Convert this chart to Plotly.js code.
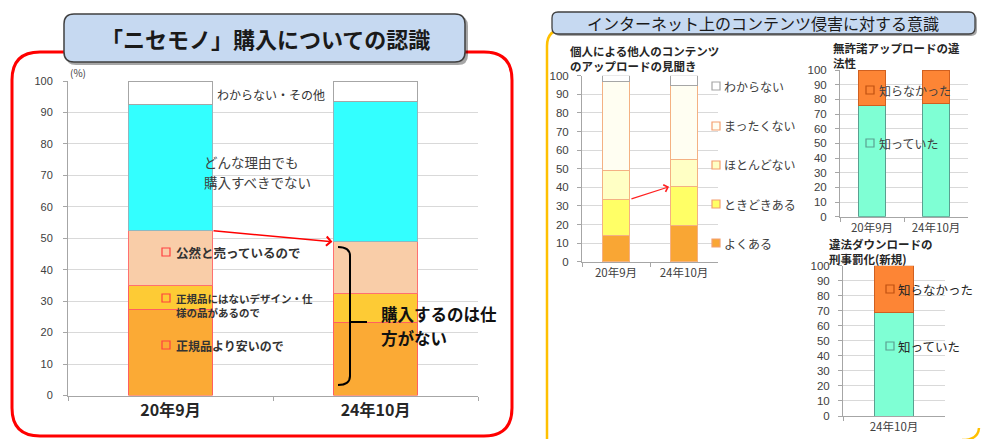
<!DOCTYPE html>
<html><head><meta charset="utf-8">
<script src="https://cdn.plot.ly/plotly-3.0.1.min.js"></script>
<style>html,body{margin:0;padding:0;background:#fff}#chart{width:982px;height:439px}</style>
</head><body><div id="chart"></div>
<script>
// ---- data: left chart 「ニセモノ」購入についての認識 ----
const periodsA = ['20年9月', '24年10月'];
const cheaperA = [27.2, 23.1];   // 正規品より安いので
const designA  = [7.7, 9.3];     // 正規品にはないデザイン・仕様の品があるので
const openlyA  = [17.5, 16.5];   // 公然と売っているので
const neverA   = [40.0, 44.7];   // どんな理由でも購入すべきでない
const otherA   = [7.6, 6.4];     // わからない・その他

// ---- data: 個人による他人のコンテンツのアップロードの見聞き ----
const periodsB = ['20年9月', '24年10月'];
const oftenB     = [14.0, 19.7]; // よくある
const sometimesB = [19.5, 20.6]; // ときどきある
const rarelyB    = [15.3, 14.9]; // ほとんどない
const notatallB  = [48.2, 39.6]; // まったくない
const unknownB   = [3.0, 5.2];   // わからない

// ---- data: 無許諾アップロードの違法性 ----
const periodsC = ['20年9月', '24年10月'];
const knewC    = [75.7, 77.3];   // 知っていた
const didntC   = [24.3, 22.7];   // 知らなかった

// ---- data: 違法ダウンロードの刑事罰化(新規) ----
const periodsD = ['24年10月'];
const knewD    = [69.0];
const didntD   = [31.0];

const yTicks = [0,10,20,30,40,50,60,70,80,90,100];

const W = 982, H = 439;
const X = p => p / W, Y = p => 1 - p / H;
const FAM = '"Liberation Sans", Arial, "Noto Sans CJK JP", sans-serif';
const JFAM = '"Noto Sans CJK JP", sans-serif';

function cum(arrs, upto) { return arrs[0].map((_, i) => arrs.slice(0, upto + 1).reduce((s, a) => s + a[i], 0)); }

function bar(x, y, color, line, xa, ya, width) {
  return {type: 'bar', x: x, y: y, xaxis: xa, yaxis: ya, width: width,
    marker: {color: color, line: {color: line, width: 1}}, hoverinfo: 'skip', showlegend: false};
}

const traces = [
  bar(periodsA, cheaperA, '#FBAA35', '#FF6060', 'x', 'y', 0.405),
  bar(periodsA, designA, '#FDCB35', '#FF6060', 'x', 'y', 0.405),
  bar(periodsA, openlyA, '#F9CDA8', '#FF7070', 'x', 'y', 0.405),
  bar(periodsA, neverA, '#33FFFF', '#8FB8C0', 'x', 'y', 0.405),
  bar(periodsA, otherA, '#FFFFFF', '#A6A6A6', 'x', 'y', 0.405),

  bar(periodsB, oftenB, '#F9A634', '#F4B183', 'x2', 'y2', 0.41),
  bar(periodsB, sometimesB, '#FFFF66', '#F4B183', 'x2', 'y2', 0.41),
  bar(periodsB, rarelyB, '#FFFFC4', '#F4B183', 'x2', 'y2', 0.41),
  bar(periodsB, notatallB, '#FFFEF2', '#F4B183', 'x2', 'y2', 0.41),
  bar(periodsB, unknownB, '#FFFFFF', '#A6A6A6', 'x2', 'y2', 0.41),

  bar(periodsC, knewC, '#7FFFD4', '#5AA090', 'x3', 'y3', 0.41),
  bar(periodsC, didntC, '#FD8535', '#D06020', 'x3', 'y3', 0.41),

  bar(periodsD, knewD, '#7FFFD4', '#5AA090', 'x4', 'y4', 0.39),
  bar(periodsD, didntD, '#FD8535', '#D06020', 'x4', 'y4', 0.39)
];

function yax(d0, d1, anchor, fs, standoff) {
  return {domain: [Y(d0), Y(d1)], range: [0, 100], tickvals: yTicks, anchor: anchor,
    showgrid: true, gridcolor: '#D9D9D9', gridwidth: 1, showline: true, linecolor: '#A6A6A6',
    ticks: 'outside', ticklen: 4, tickcolor: '#A6A6A6', ticklabelstandoff: standoff,
    tickfont: {size: fs, color: '#404040', family: FAM}, zeroline: false, fixedrange: true};
}
function xax(x0, x1, anchor, fs, bold) {
  return {domain: [X(x0), X(x1)], anchor: anchor, type: 'category', showline: true, linecolor: '#A6A6A6',
    ticks: 'outside', tickson: 'boundaries', ticklen: 4, tickcolor: '#A6A6A6', showgrid: false,
    tickfont: {size: fs, color: bold ? '#262626' : '#404040', family: JFAM, weight: bold ? 'bold' : 'normal'},
    fixedrange: true};
}

// rounded rect path in pixel coords -> paper
function pt(x, y) { return X(x).toFixed(5) + ',' + Y(y).toFixed(5); }
function rr(x0, y0, x1, y1, r) {
  return 'M' + pt(x0 + r, y0) + ' L' + pt(x1 - r, y0) + ' Q' + pt(x1, y0) + ' ' + pt(x1, y0 + r) +
    ' L' + pt(x1, y1 - r) + ' Q' + pt(x1, y1) + ' ' + pt(x1 - r, y1) +
    ' L' + pt(x0 + r, y1) + ' Q' + pt(x0, y1) + ' ' + pt(x0, y1 - r) +
    ' L' + pt(x0, y0 + r) + ' Q' + pt(x0, y0) + ' ' + pt(x0 + r, y0) + ' Z';
}
function sq(x, y, fill, line) {
  return {type: 'rect', xref: 'paper', yref: 'paper', x0: X(x), x1: X(x + 8), y0: Y(y + 4), y1: Y(y - 4),
    fillcolor: fill, line: {color: line, width: 1.2}};
}

const shapes = [
  // left red frame
  {type: 'path', xref: 'paper', yref: 'paper', path: rr(12, 52, 512, 436, 28), line: {color: '#FF0000', width: 3}},
  // left title shadow + box
  {type: 'path', xref: 'paper', yref: 'paper', path: rr(66, 16, 468, 65, 10), fillcolor: 'rgba(0,0,0,0.35)', line: {width: 0}},
  {type: 'path', xref: 'paper', yref: 'paper', path: rr(64, 14, 465, 62, 10), fillcolor: '#C6D9F1', line: {color: '#404040', width: 1.5}},
  // right gold frame
  {type: 'path', xref: 'paper', yref: 'paper', path: 'M' + pt(547, 445) + ' L' + pt(547, 46) + ' Q' + pt(547, 29) + ' ' + pt(565, 29) + ' L' + pt(600, 29),
    line: {color: '#FFC000', width: 2.5}},
  {type: 'path', xref: 'paper', yref: 'paper', path: 'M' + pt(962, 440) + ' Q' + pt(978, 440) + ' ' + pt(979, 428),
    line: {color: '#FFC000', width: 2.5}},
  // right title shadow + box
  {type: 'path', xref: 'paper', yref: 'paper', path: rr(554, 14, 977, 36, 6), fillcolor: 'rgba(0,0,0,0.35)', line: {width: 0}},
  {type: 'path', xref: 'paper', yref: 'paper', path: rr(552, 12, 975, 34, 6), fillcolor: '#C6D9F1', line: {color: '#404040', width: 1.3}},
  // bracket
  {type: 'path', xref: 'paper', yref: 'paper',
    path: 'M' + pt(338, 247) + ' Q' + pt(350, 247) + ' ' + pt(350, 256) + ' L' + pt(350, 376) + ' Q' + pt(350, 385) + ' ' + pt(338, 385) +
      ' M' + pt(350, 322) + ' L' + pt(367, 322),
    line: {color: '#000000', width: 2}},
  // legend squares, left chart
  sq(162, 252, '#F9CDA8', '#FF4040'),
  sq(162, 298, '#FDCB35', '#FF4040'),
  sq(162, 345, '#FBAA35', '#FF4040'),
  // legend squares, chart B
  sq(712, 86, '#FFFFFF', '#A6A6A6'),
  sq(712, 126, '#FFFEF2', '#F4A070'),
  sq(712, 165, '#FFFFC4', '#F4A070'),
  sq(712, 204, '#FFFF66', '#F4A070'),
  sq(712, 243, '#F9A634', '#F4A070'),
  // chart C
  sq(866, 90, '#FD8535', '#C05010'),
  sq(866, 143, '#7FFFD4', '#5AA090'),
  // chart D
  sq(886, 289, '#FD8535', '#C05010'),
  sq(886, 346, '#7FFFD4', '#5AA090')
];

function txt(x, y, t, size, opts) {
  opts = opts || {};
  return {xref: 'paper', yref: 'paper', x: X(x), y: Y(y), text: t, showarrow: false,
    xanchor: opts.xa || 'left', yanchor: 'middle', align: 'left',
    font: {size: size, color: opts.color || '#262626', family: JFAM, weight: opts.bold ? 'bold' : 'normal'}};
}

const topOpenA = cum([cheaperA, designA, openlyA], 2);
const topSomeB = cum([oftenB, sometimesB], 1);

const annotations = [
  txt(265, 38, '「ニセモノ」購入についての認識', 22, {xa: 'center', bold: true, color: '#1a1a1a'}),
  txt(68, 73, '(%)', 10, {color: '#404040'}),
  txt(215, 94, 'わからない・その他', 12, {color: '#333'}),
  txt(202, 162, 'どんな理由でも', 13.5, {color: '#404040'}),
  txt(202, 182, '購入すべきでない', 13.5, {color: '#404040'}),
  txt(174, 252, '公然と売っているので', 12.5, {bold: true, color: '#333'}),
  txt(174, 305, '正規品にはないデザイン・仕<br>様の品があるので', 10.5, {bold: true, color: '#333'}),
  txt(174, 345, '正規品より安いので', 12, {bold: true, color: '#333'}),
  txt(379, 314, '購入するのは仕', 16.5, {bold: true, color: '#111'}),
  txt(379, 338, '方がない', 16.5, {bold: true, color: '#111'}),

  txt(763, 23, 'インターネット上のコンテンツ侵害に対する意識', 16, {xa: 'center', color: '#1a1a1a'}),
  txt(568, 59, '個人による他人のコンテンツ<br>のアップロードの見聞き', 11.5, {bold: true}),
  txt(722, 86, 'わからない', 12, {color: '#404040'}),
  txt(722, 126, 'まったくない', 12, {color: '#404040'}),
  txt(722, 165, 'ほとんどない', 12, {color: '#404040'}),
  txt(722, 204, 'ときどきある', 12, {color: '#404040'}),
  txt(722, 243, 'よくある', 12, {color: '#404040'}),

  txt(831, 56, '無許諾アップロードの違<br>法性', 11.5, {bold: true}),
  txt(877, 90, '知らなかった', 12, {color: '#404040'}),
  txt(877, 143, '知っていた', 12, {color: '#404040'}),

  txt(827, 251, '違法ダウンロードの<br>刑事罰化(新規)', 11.5, {bold: true}),
  txt(896, 289, '知らなかった', 12.5, {color: '#262626'}),
  txt(896, 346, '知っていた', 12.5, {color: '#262626'}),

  // arrows
  {xref: 'x', yref: 'y', axref: 'x', ayref: 'y', x: 0.79, y: topOpenA[1], ax: 0.2025, ay: topOpenA[0],
    text: '', showarrow: true, arrowcolor: '#FF0000', arrowwidth: 1.5, arrowhead: 4, arrowsize: 1.2},
  {xref: 'x2', yref: 'y2', axref: 'x2', ayref: 'y2', x: 0.78, y: topSomeB[1], ax: 0.205, ay: topSomeB[0],
    text: '', showarrow: true, arrowcolor: '#FF2020', arrowwidth: 1.2, arrowhead: 4, arrowsize: 1.2}
];

const layout = {
  width: W, height: H, margin: {l: 0, r: 0, t: 0, b: 0},
  paper_bgcolor: '#FFFFFF', plot_bgcolor: 'rgba(0,0,0,0)',
  barmode: 'stack', showlegend: false, hovermode: false,
  xaxis: xax(68, 478, 'y', 16, true),
  yaxis: yax(395.5, 81, 'x', 11, 8),
  xaxis2: xax(582, 718, 'y2', 11.5, false),
  yaxis2: yax(261.7, 75.7, 'x2', 11.5, 6),
  xaxis3: xax(840, 968, 'y3', 11.5, false),
  yaxis3: yax(216.7, 70, 'x3', 11.5, 6),
  xaxis4: xax(843, 945, 'y4', 11.5, false),
  yaxis4: yax(416, 265.7, 'x4', 11.5, 6),
  shapes: shapes,
  annotations: annotations
};

Plotly.newPlot('chart', traces, layout, {staticPlot: true, displayModeBar: false});
</script>
</body></html>
